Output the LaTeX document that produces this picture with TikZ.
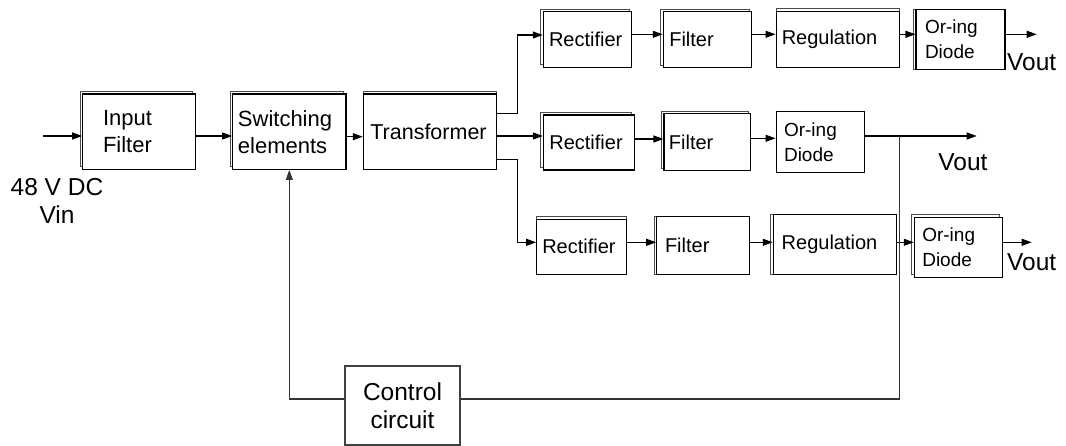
\documentclass[tikz,border=0pt]{standalone}
\usepackage{fontspec}
\setmainfont{Liberation Sans}
\usetikzlibrary{arrows.meta,shadows}
\begin{document}
\begin{tikzpicture}[x=1pt,y=-1pt,
  ln/.style={line width=1.1pt},
  arr/.style={ln,-{Triangle[length=10pt,width=7pt]}},
  box/.style={draw, fill=white, line width=1.1pt, inner ysep=0pt, align=left},
  shUL/.style={copy shadow={shadow xshift=-2.6pt, shadow yshift=2.6pt, draw=black!70, line width=1pt}},
  shU/.style={copy shadow={shadow xshift=0pt, shadow yshift=2.8pt, draw=black!70, line width=1pt}},
  shL/.style={copy shadow={shadow xshift=-2.4pt, shadow yshift=0pt, draw=black!70, line width=1pt}},
  fA/.style={font=\fontsize{22}{27}\selectfont},
  fT/.style={font=\fontsize{21.5}{26}\selectfont},
  fB/.style={font=\fontsize{20}{24}\selectfont},
  fO/.style={font=\fontsize{19}{25}\selectfont},
  fL/.style={font=\fontsize{24.5}{28}\selectfont}]
\useasboundingbox (0,0) rectangle (1066,446);

% main chain
\node[box,shUL,fA,minimum width=112.6,minimum height=75.3,inner xsep=20.3,text width=72] (inf) at (139,131.7) {Input\\Filter};
\node[box,shUL,fA,minimum width=113.3,minimum height=75.3,inner xsep=5.3,text width=102.7] (sw) at (289.3,131.7) {Switching\\elements};
\node[box,shU,fT,minimum width=132.7,minimum height=75.3,inner xsep=7,text width=118.7] (tr) at (429.7,131.7) {Transformer};

% row 1
\node[box,shUL,fB,minimum width=88.4,minimum height=55.6,inner xsep=5.7,text width=77] (r1) at (587.5,39.5) {Rectifier};
\node[box,shUL,fB,minimum width=88.4,minimum height=56,inner xsep=6,text width=76.4] (f1) at (707.5,39.7) {Filter};
\node[box,shU,fB,minimum width=123.3,minimum height=56,inner xsep=5.7,text width=111.9] (g1) at (837.7,39.7) {Regulation};
\node[box,shL,fO,minimum width=89,minimum height=60,inner xsep=9,text width=71] (o1) at (960.5,39.3) {Or-ing\\Diode};

% row 2
\node[box,shUL,fB,minimum width=90.7,minimum height=55,inner xsep=6,text width=78.7] (r2) at (588.7,142.5) {Rectifier};
\node[box,shUL,fB,minimum width=86.7,minimum height=56.7,inner xsep=5,text width=76.7] (f2) at (707.3,142.3) {Filter};
\node[box,fO,minimum width=88.3,minimum height=60.6,inner xsep=8,text width=72.3] (o2) at (820.2,142) {Or-ing\\Diode};

% row 3
\node[box,shU,fB,minimum width=90,minimum height=55,inner xsep=5.6,text width=78.8] (r3) at (581.7,246.8) {Rectifier};
\node[box,shL,fB,minimum width=92.6,minimum height=57.6,inner xsep=8.3,text width=76] (f3) at (703,245.5) {Filter};
\node[box,shL,fB,minimum width=123.4,minimum height=60,inner xsep=8.4,text width=106.6] (g3) at (835,244.3) {Regulation};
\node[box,shUL,fO,minimum width=88,minimum height=60,inner xsep=8,text width=72] (o3) at (958.3,247.3) {Or-ing\\Diode};

% control
\node[draw=black!75,line width=1.1pt,fL,align=center,minimum width=115,minimum height=79,inner sep=0pt] (cc) at (402.5,405.5) {Control\\circuit};

% labels
\node[fL,align=center,inner sep=0pt] (vinl) at (57,201) {48 V DC\\Vin};
\node[fL,inner sep=0pt] (vo1) at (1031.7,61.7) {Vout};
\node[fL,inner sep=0pt] (vo2) at (963,161.7) {Vout};
\node[fL,inner sep=0pt] (vo3) at (1031.7,261.7) {Vout};

% coordinates
\coordinate (vin) at (43,136);
\coordinate (e1) at (1036.7,34.3);
\coordinate (e2) at (976.7,136);
\coordinate (e3) at (1031.7,242.3);
\coordinate (j) at (899.3,136);

% connectors
\draw[arr] (vin) -- (vin -| inf.west);
\draw[arr] (inf.east |- 0,136) -- (sw.west |- 0,136);
\draw[arr] (sw.east |- 0,136.7) -- (tr.west |- 0,136.7);
\draw[arr] (tr.east |- 0,113.3) -- ++(20.7,0) |- (r1.west |- 0,35);
\draw[arr] (tr.east |- 0,136) -- (r2.west |- 0,136);
\draw[arr] (tr.east |- 0,159.3) -- ++(20.7,0) |- (r3.west |- 0,242.3);

\draw[arr] (r1.east |- 0,34.3) -- (f1.west |- 0,34.3);
\draw[arr] (f1.east |- 0,34.3) -- (g1.west |- 0,34.3);
\draw[arr] (g1.east |- 0,34.3) -- (o1.west |- 0,34.3);
\draw[arr] (o1.east |- e1) -- (e1);

\draw[arr] (r2.east |- 0,139) -- (f2.west |- 0,139);
\draw[arr] (f2.east |- 0,138.3) -- (o2.west |- 0,138.3);
\draw[arr] (o2.east |- e2) -- (e2);

\draw[arr] (r3.east |- e3) -- (f3.west |- e3);
\draw[arr] (f3.east |- e3) -- (g3.west |- e3);
\draw[arr] (g3.east |- e3) -- (o3.west |- e3);
\draw[arr] (o3.east |- e3) -- (e3);

\draw[ln,black!80] (cc.east |- 0,399) -| (j);
\draw[arr,black!80] (cc.west |- 0,399) -| (sw.south);
\end{tikzpicture}
\end{document}
